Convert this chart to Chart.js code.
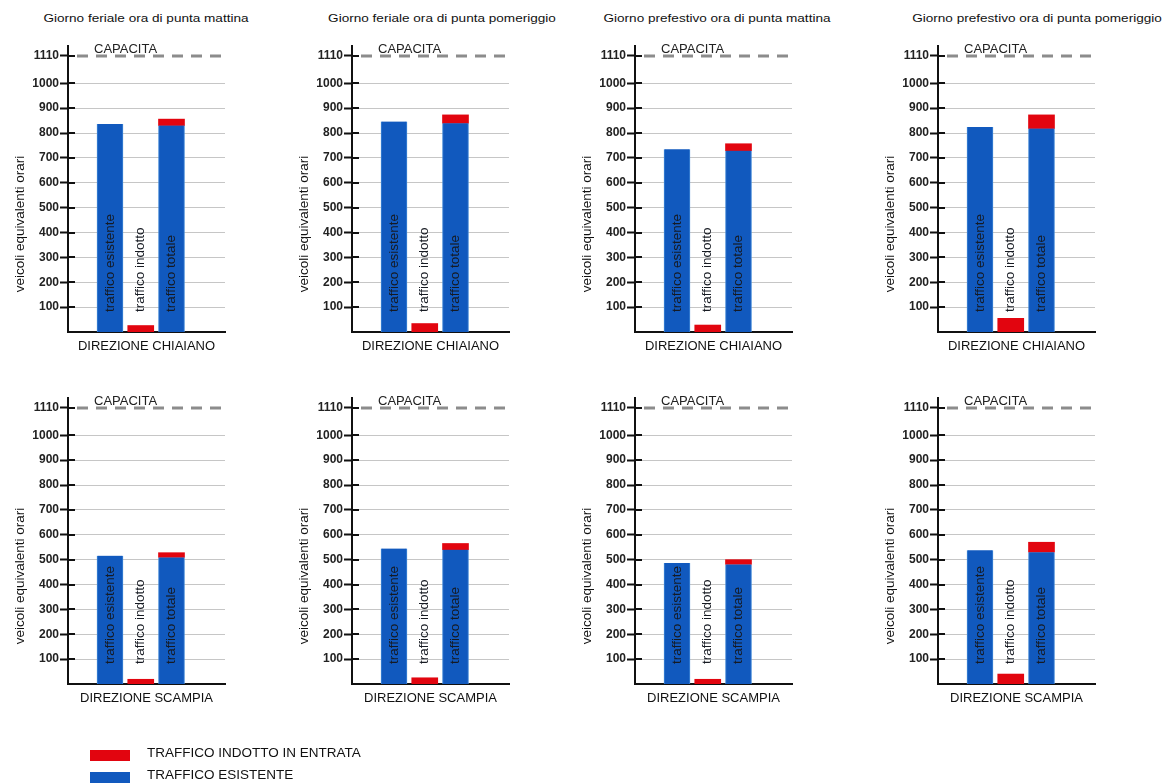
<!DOCTYPE html>
<html lang="it">
<head>
<meta charset="UTF-8">
<title>Traffico indotto - veicoli equivalenti orari</title>
<script src="https://cdn.jsdelivr.net/npm/chart.js"></script>
<style>
    body {
        margin: 0;
        width: 1166px;
        height: 783px;
        overflow: hidden;
        position: relative;
        background: #fff;
        font-family: 'Liberation Sans', Arial, sans-serif;
        color: #111;
    }
    .pannello { position: absolute; width: 221px; height: 362px; }
    .titolo {
        position: absolute;
        width: 320px;
        top: 11px;
        line-height: 14px;
        text-align: center;
        font-size: 11.5px;
        white-space: nowrap;
        transform: scaleX(1.18);
    }
    .campione { position: absolute; left: 90px; width: 40px; height: 11px; }
    .voce { position: absolute; left: 147px; font-size: 13.5px; line-height: 16px; white-space: nowrap; }
</style>
</head>
<body>
<script>
    // dati
    var periodi = [
        "Giorno feriale ora di punta mattina",
        "Giorno feriale ora di punta pomeriggio",
        "Giorno prefestivo ora di punta mattina",
        "Giorno prefestivo ora di punta pomeriggio"
    ];
    var direzioni = ["DIREZIONE CHIAIANO", "DIREZIONE SCAMPIA"];
    var barre = ["traffico esistente", "traffico indotto", "traffico totale"];

    var esistenteChiaiano = [836, 846, 735, 824];
    var indottoChiaiano = [26, 34, 28, 55];
    var totaleChiaiano = [856, 873, 757, 873];

    var esistenteScampia = [516, 545, 487, 538];
    var indottoScampia = [19, 25, 19, 40];
    var totaleScampia = [528, 565, 500, 570];

    var capacita = 1110;
    var tickY = [100, 200, 300, 400, 500, 600, 700, 800, 900, 1000, 1110];
    var legenda = ["TRAFFICO INDOTTO IN ENTRATA", "TRAFFICO ESISTENTE"];

    // colori e posizioni
    var BLU = "#1159be";
    var BLU_BORDO = "#3f86d6";
    var ROSSO = "#e2050f";
    var FONT = "'Liberation Sans', Arial, sans-serif";
    var assiX = [68, 352, 635, 938];
    var centriTitoli = [146, 442, 717, 1037];
    var LARGH_Y = 62;

    // linea di capacita, etichette nelle barre, titolo asse y, tacche interne
    var decorazioni = {
        id: "decorazioni",
        afterDatasetsDraw: function (chart) {
            var ctx = chart.ctx;
            var area = chart.chartArea;
            var x = chart.scales.x;
            var y = chart.scales.y;
            ctx.save();

            // tacche a destra dell'asse
            ctx.strokeStyle = "#111";
            ctx.lineWidth = 2;
            tickY.forEach(function (v) {
                var py = Math.round(y.getPixelForValue(v));
                ctx.beginPath();
                ctx.moveTo(area.left, py);
                ctx.lineTo(area.left + 7, py);
                ctx.stroke();
            });

            // capacita
            var yc = y.getPixelForValue(capacita);
            ctx.strokeStyle = "#8c8c8c";
            ctx.lineWidth = 3;
            ctx.setLineDash([11, 8]);
            ctx.beginPath();
            ctx.moveTo(area.left + 9, yc);
            ctx.lineTo(area.right, yc);
            ctx.stroke();
            ctx.setLineDash([]);
            ctx.fillStyle = "#222";
            ctx.font = "13px " + FONT;
            ctx.textAlign = "left";
            ctx.textBaseline = "middle";
            ctx.fillText("CAPACITA", area.left + 26, yc - 7);

            // etichette verticali delle barre
            ctx.font = "13.5px " + FONT;
            ctx.fillStyle = "#161a22";
            var base = y.getPixelForValue(0) - 20;
            barre.forEach(function (testo, i) {
                ctx.save();
                ctx.translate(x.getPixelForValue(i + 1), base);
                ctx.rotate(-Math.PI / 2);
                ctx.fillText(testo, 0, 0);
                ctx.restore();
            });

            // titolo asse y
            ctx.save();
            ctx.translate(area.left - 48, area.bottom - 108);
            ctx.rotate(-Math.PI / 2);
            ctx.textAlign = "center";
            ctx.fillStyle = "#111";
            ctx.font = "13.5px " + FONT;
            ctx.fillText("veicoli equivalenti orari", 0, 0);
            ctx.restore();

            ctx.restore();
        }
    };

    function creaGrafico(riga, col, esistente, indotto, totale) {
        var div = document.createElement("div");
        div.className = "pannello";
        div.style.left = (assiX[col] - LARGH_Y) + "px";
        div.style.top = (riga * 352) + "px";
        var canvas = document.createElement("canvas");
        div.appendChild(canvas);
        document.body.appendChild(div);

        new Chart(canvas, {
            type: "bar",
            data: {
                datasets: [{
                    label: legenda[1],
                    data: [{ x: 1, y: esistente[col] }, { x: 3, y: totale[col] - indotto[col] }],
                    backgroundColor: BLU,
                    borderColor: BLU_BORDO,
                    borderWidth: { left: 1, right: 1, top: 0, bottom: 0 },
                    borderSkipped: false,
                    barThickness: 26
                }, {
                    label: legenda[0],
                    data: [{ x: 2, y: indotto[col] }, { x: 3, y: indotto[col] }],
                    backgroundColor: ROSSO,
                    borderWidth: 0,
                    barThickness: 26
                }]
            },
            options: {
                animation: false,
                responsive: true,
                maintainAspectRatio: false,
                layout: { padding: { top: 46, right: 2, left: 0, bottom: 0 } },
                plugins: {
                    legend: { display: false },
                    tooltip: { enabled: false }
                },
                scales: {
                    x: {
                        type: "linear",
                        min: -0.366,
                        max: 4.74,
                        offset: false,
                        bounds: "ticks",
                        stacked: true,
                        grid: { display: false },
                        ticks: { display: false },
                        border: { color: "#111", width: 2 },
                        title: {
                            display: true,
                            text: direzioni[riga],
                            color: "#111",
                            font: { family: FONT, size: 13 },
                            padding: { top: 0, bottom: 8 }
                        },
                        afterFit: function (s) { s.height = 30; }
                    },
                    y: {
                        min: 0,
                        max: 1150,
                        stacked: true,
                        afterBuildTicks: function (s) {
                            s.ticks = tickY.map(function (v) { return { value: v }; });
                        },
                        ticks: {
                            color: "#222",
                            padding: 1,
                            font: { family: FONT, size: 12, weight: "bold" },
                            callback: function (v) { return String(v); }
                        },
                        grid: {
                            color: function (c) {
                                return c.tick && c.tick.value === capacita ? "rgba(0,0,0,0)" : "#c6c6c6";
                            },
                            tickColor: "#111",
                            tickLength: 8,
                            tickWidth: 2
                        },
                        border: { color: "#111", width: 2 },
                        afterFit: function (s) { s.width = LARGH_Y; }
                    }
                }
            },
            plugins: [decorazioni]
        });
    }

    for (var c = 0; c < 4; c++) {
        var t = document.createElement("div");
        t.className = "titolo";
        t.style.left = (centriTitoli[c] - 160) + "px";
        t.textContent = periodi[c];
        document.body.appendChild(t);

        creaGrafico(0, c, esistenteChiaiano, indottoChiaiano, totaleChiaiano);
        creaGrafico(1, c, esistenteScampia, indottoScampia, totaleScampia);
    }

    // legenda
    [ROSSO, BLU].forEach(function (colore, i) {
        var q = document.createElement("div");
        q.className = "campione";
        q.style.top = (750 + i * 22) + "px";
        q.style.background = colore;
        document.body.appendChild(q);
        var v = document.createElement("div");
        v.className = "voce";
        v.style.top = (745 + i * 22) + "px";
        v.textContent = legenda[i];
        document.body.appendChild(v);
    });
</script>
</body>
</html>
